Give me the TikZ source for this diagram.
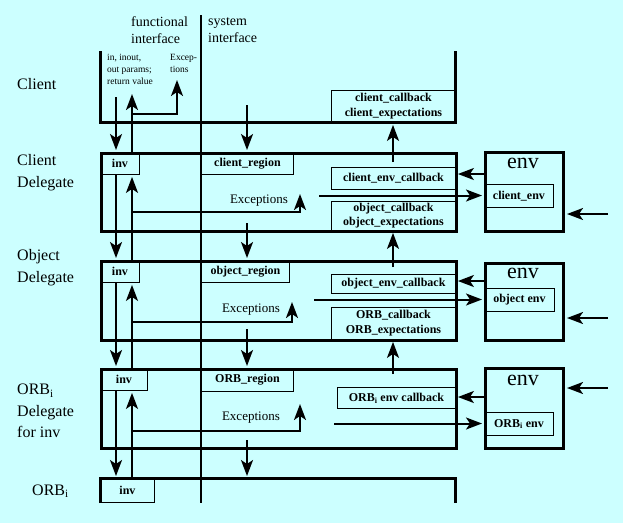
\documentclass[tikz,border=0pt]{standalone}
\usepackage{fontspec}
\setmainfont{Liberation Serif}
\usetikzlibrary{arrows.meta}

\definecolor{paleCyan}{RGB}{204,255,255}

\tikzset{
  layerbox/.style={draw, line width=3pt, inner sep=0pt, anchor=north west},
  slot/.style={draw, line width=0.9pt, inner sep=0pt, anchor=north west,
    align=center, font=\bfseries\fontsize{12}{15}\selectfont},
  rowname/.style={anchor=west, inner sep=0pt, align=left,
    font=\fontsize{16}{21.5}\selectfont},
  note/.style={anchor=west, inner sep=0pt, align=left},
  envname/.style={inner sep=0pt, font=\fontsize{22}{24}\selectfont},
  flow/.style={line width=2pt, shorten >=2pt,
    -{Stealth[length=16pt,width=12pt,inset=4pt]}},
}

\begin{document}
\begin{tikzpicture}[x=1pt, y=-1pt]

% Background
\fill[paleCyan] (0,0) rectangle (623,523);
\useasboundingbox (0,0) rectangle (623,523);

% Interface columns
\node[note, font=\fontsize{14}{17}\selectfont] (funchead) at (131,30.5) {functional\\interface};
\node[note, font=\fontsize{14}{17}\selectfont] (syshead) at (208,30.5) {system\\interface};
\draw[line width=1.8pt] (201,15) -- (201,503);

% Row names
\node[rowname] (clientname) at (17,84) {Client};
\node[rowname] (cdname) at (17,172.5) {Client\\Delegate};
\node[rowname] (odname) at (17,267.5) {Object\\Delegate};
\node[rowname] (rdname) at (17,411) {ORB\textsubscript{i}\\Delegate\\for inv};
\node[rowname] (orbname) at (32,491) {ORB\textsubscript{i}};

% Client
\draw[line width=3pt] (100,51) -- (100,122) -- (455,122) -- (455,51);
\node[note, font=\fontsize{9.5}{12}\selectfont] (params) at (107,69) {in, inout,\\out params;\\return value};
\node[note, font=\fontsize{9.5}{12}\selectfont] (cexc) at (170,63) {Excep-\\tions};
\node[slot, minimum width=124pt, minimum height=32pt] (ccb) at (331,90) {client\_callback\\client\_expectations};

% Client Delegate
\node[layerbox, minimum width=355pt, minimum height=78pt] (cd) at (100,152) {};
\node[slot, minimum width=39pt, minimum height=22pt] (cdinv) at (100,152) {inv};
\node[slot, minimum width=92pt, minimum height=22pt] (cdreg) at (201,152) {client\_region};
\node[slot, minimum width=124pt, minimum height=22pt] (cdenvcb) at (331,167) {client\_env\_callback};
\node[slot, minimum width=124pt, minimum height=29pt, font=\bfseries\fontsize{12}{14}\selectfont] (cdocb) at (331,201) {object\_callback\\object\_expectations};
\node[note, font=\fontsize{13}{15}\selectfont, anchor=east] (cdexc) at (288,201) {Exceptions};
\node[layerbox, minimum width=78pt, minimum height=79pt] (cenv) at (484,151) {};
\node[envname] (cenvname) at (523,163) {env};
\node[slot, minimum width=69pt, minimum height=23pt] (cenvin) at (484,184) {client\_env};

% Object Delegate
\node[layerbox, minimum width=355pt, minimum height=79pt] (od) at (100,260) {};
\node[slot, minimum width=39pt, minimum height=22pt] (odinv) at (100,260) {inv};
\node[slot, minimum width=88pt, minimum height=22pt] (odreg) at (201,260) {object\_region};
\node[slot, minimum width=124pt, minimum height=19pt] (odenvcb) at (331,274) {object\_env\_callback};
\node[slot, minimum width=124pt, minimum height=32pt] (odocb) at (331,307) {ORB\_callback\\ORB\_expectations};
\node[note, font=\fontsize{13}{15}\selectfont, anchor=east] (odexc) at (280,310) {Exceptions};
\node[layerbox, minimum width=78pt, minimum height=77pt] (oenv) at (484,262) {};
\node[envname] (oenvname) at (523,273) {env};
\node[slot, minimum width=70pt, minimum height=23pt] (oenvin) at (484,288) {object env};

% ORB_i Delegate
\node[layerbox, minimum width=355pt, minimum height=79pt] (rd) at (100,368) {};
\node[slot, minimum width=47pt, minimum height=22pt] (rdinv) at (100,368) {inv};
\node[slot, minimum width=92pt, minimum height=23pt] (rdreg) at (201,368) {ORB\_region};
\node[slot, minimum width=118pt, minimum height=21pt] (rdenvcb) at (337,387) {ORB\textsubscript{i} env callback};
\node[note, font=\fontsize{13}{15}\selectfont, anchor=east] (rdexc) at (280,418) {Exceptions};
\node[layerbox, minimum width=78pt, minimum height=80pt] (renv) at (484,367) {};
\node[envname] (renvname) at (523,380) {env};
\node[slot, minimum width=69pt, minimum height=23pt] (renvin) at (484,412) {ORB\textsubscript{i} env};

% ORB_i
\draw[line width=3pt] (100,503) -- (100,478) -- (455,478) -- (455,503);
\node[slot, minimum width=54pt, minimum height=24pt] (orbinv) at (100,478) {inv};

% Free ends of flows
\coordinate (cin) at (116,97);
\coordinate (cret) at (132,92);
\coordinate (csys) at (247,105);
\coordinate (cturn) at (132,114);
\coordinate (cexcup) at (177,78);
\coordinate (cdturn) at (132,212);
\coordinate (cdexcup) at (300,192);
\coordinate (odturn) at (132,322);
\coordinate (odexcup) at (292,300);
\coordinate (rdturn) at (132,431);
\coordinate (rdexcup) at (300,402);
\coordinate (cdsys) at (247,223);
\coordinate (odsys) at (247,329);
\coordinate (rdsys) at (247,440);
\coordinate (cdcbup) at (393,162);
\coordinate (odcbup) at (393,267);
\coordinate (rdcbup) at (393,374);
\coordinate (cdout) at (319,195.5);
\coordinate (odout) at (314,299.5);
\coordinate (rdout) at (334,423.5);
\coordinate (cdback) at (484,174);
\coordinate (odback) at (484,281);
\coordinate (rdback) at (484,397);
\coordinate (cdext) at (608,214);
\coordinate (odext) at (608,318);
\coordinate (rdext) at (608,388);

% Calls down the functional interface
\draw[flow] (cin) -- (cin |- cd.north);
\draw[flow] (cdinv.south -| cin) -- (cin |- od.north);
\draw[flow] (odinv.south -| cin) -- (cin |- rd.north);
\draw[flow] (rdinv.south -| cin) -- (cin |- orbinv.north);

% Results back up
\draw[flow] (orbinv.north -| cret) -- (cret |- rdinv.south);
\draw[flow] (rdinv.north -| cret) -- (cret |- odinv.south);
\draw[flow] (odinv.north -| cret) -- (cret |- cdinv.south);
\draw[flow] (cdinv.north -| cret) -- (cret);

% Exceptions
\draw[flow] (cturn) -| (cexcup);
\draw[flow] (cdturn) -| (cdexcup);
\draw[flow] (odturn) -| (odexcup);
\draw[flow] (rdturn) -| (rdexcup);

% System interface
\draw[flow] (csys) -- (csys |- cd.north);
\draw[flow] (cdsys) -- (cdsys |- od.north);
\draw[flow] (odsys) -- (odsys |- rd.north);
\draw[flow] (rdsys) -- (rdsys |- orbinv.north);

% Callbacks
\draw[flow] (cdcbup) -- (cdcbup |- ccb.south);
\draw[flow] (odcbup) -- (odcbup |- cdocb.south);
\draw[flow] (rdcbup) -- (rdcbup |- odocb.south);

% Environments
\draw[flow] (cdout) -- (cdout -| cenvin.west);
\draw[flow] (odout) -- (odout -| oenvin.west);
\draw[flow] (rdout) -- (rdout -| renvin.west);
\draw[flow] (cdback) -- (cdback -| cdenvcb.east);
\draw[flow] (odback) -- (odback -| odenvcb.east);
\draw[flow] (rdback) -- (rdback -| rdenvcb.east);
\draw[flow] (cdext) -- (cdext -| cenv.east);
\draw[flow] (odext) -- (odext -| oenv.east);
\draw[flow] (rdext) -- (rdext -| renv.east);

\end{tikzpicture}
\end{document}
